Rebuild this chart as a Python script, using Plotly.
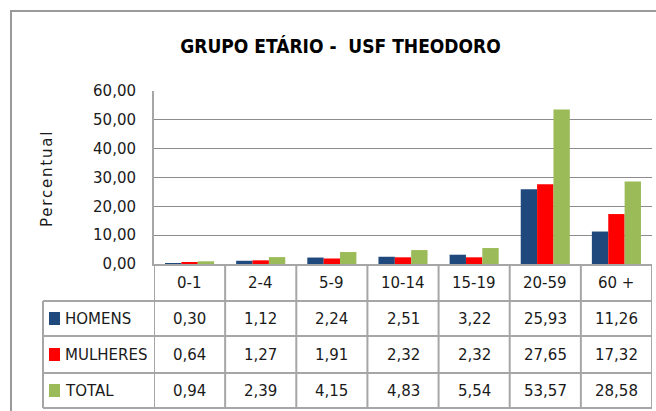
import plotly.graph_objects as go

# ---- data -------------------------------------------------------------
categories = ["0-1", "2-4", "5-9", "10-14", "15-19", "20-59", "60 +"]
homens = [0.30, 1.12, 2.24, 2.51, 3.22, 25.93, 11.26]
mulheres = [0.64, 1.27, 1.91, 2.32, 2.32, 27.65, 17.32]
total = [0.94, 2.39, 4.15, 4.83, 5.54, 53.57, 28.58]

series_names = ["HOMENS", "MULHERES", "TOTAL"]
series_values = [homens, mulheres, total]
series_colors = ["#1F497D", "#FF0000", "#9BBB59"]

title_text = "GRUPO ETÁRIO -  USF THEODORO"
y_title = "Percentual"

# ---- geometry (pixels) -----------------------------------------------
W, H = 656, 411
PL, PR, PT, PB = 154, 652, 91, 264          # plot area box
ROW_EDGES = [264, 301, 336, 373, 408]       # table row borders
LABEL_LEFT = 43                             # left edge of series label column


def px_x(px):
    return (px - PL) / (PR - PL)


def px_y(py):
    return (PB - py) / (PB - PT)


FONT = "DejaVu Sans"
TXT = "#1a1a1a"
LINE = "#a6a6a6"


def fmt(v):
    return f"{v:.2f}".replace(".", ",")


fig = go.Figure()
for name, vals, col in zip(series_names, series_values, series_colors):
    fig.add_trace(go.Bar(x=categories, y=vals, name=name,
                         marker=dict(color=col, line=dict(width=0)),
                         showlegend=False))

shapes = []
annotations = []

# outer chart frame
shapes.append(dict(type="rect", xref="paper", yref="paper",
                   x0=px_x(11), x1=px_x(670), y0=px_y(11), y1=px_y(430),
                   line=dict(color="#9a9a9a", width=2), layer="below"))

# data table: horizontal rules
for i, py in enumerate(ROW_EDGES[1:]):
    shapes.append(dict(type="line", xref="paper", yref="paper",
                       x0=px_x(LABEL_LEFT), x1=1, y0=px_y(py), y1=px_y(py),
                       line=dict(color=LINE, width=2)))
# data table: vertical rules at category boundaries
for k in range(len(categories) + 1):
    shapes.append(dict(type="line", xref="x", yref="paper",
                       x0=k - 0.5, x1=k - 0.5, y0=0, y1=px_y(ROW_EDGES[-1]),
                       line=dict(color=LINE, width=2)))
shapes.append(dict(type="line", xref="paper", yref="paper",
                   x0=px_x(LABEL_LEFT), x1=px_x(LABEL_LEFT),
                   y0=px_y(ROW_EDGES[1]), y1=px_y(ROW_EDGES[-1]),
                   line=dict(color=LINE, width=2)))

# header row: category names
hy = px_y((ROW_EDGES[0] + ROW_EDGES[1]) / 2)
for c in categories:
    annotations.append(dict(x=c, y=hy, xref="x", yref="paper", text=c,
                            showarrow=False, xanchor="center", yanchor="middle",
                            font=dict(family=FONT, size=15, color=TXT)))

# series rows: colour key, name and values
for r, (name, vals, col) in enumerate(zip(series_names, series_values, series_colors)):
    cy_px = (ROW_EDGES[r + 1] + ROW_EDGES[r + 2]) / 2
    cy = px_y(cy_px)
    shapes.append(dict(type="rect", xref="paper", yref="paper",
                       x0=px_x(49), x1=px_x(60),
                       y0=px_y(cy_px + 6.5), y1=px_y(cy_px - 6.5),
                       fillcolor=col, line=dict(width=0)))
    annotations.append(dict(x=px_x(63), y=cy, xref="paper", yref="paper",
                            text=name, showarrow=False, xanchor="left",
                            yanchor="middle",
                            font=dict(family=FONT, size=15, color=TXT)))
    for c, v in zip(categories, vals):
        annotations.append(dict(x=c, y=cy, xref="x", yref="paper", text=fmt(v),
                                showarrow=False, xanchor="center",
                                yanchor="middle",
                                font=dict(family=FONT, size=15, color=TXT)))

# vertical axis title
annotations.append(dict(x=px_x(47), y=px_y(179), xref="paper", yref="paper",
                        text=f"<span style='letter-spacing:1.8px'>{y_title}</span>",
                        textangle=-90, showarrow=False,
                        xanchor="center", yanchor="middle",
                        font=dict(family=FONT, size=15, color=TXT)))

fig.update_layout(
    width=W, height=H, autosize=False,
    margin=dict(l=PL, r=W - PR, t=PT, b=H - PB, pad=0),
    paper_bgcolor="white", plot_bgcolor="white",
    separators=",.",
    barmode="group", bargap=0.31, bargroupgap=0,
    title=dict(text=title_text, x=340.5 / W, xanchor="center",
               y=1 - 46 / H, yanchor="middle", yref="container",
               font=dict(family="DejaVu Sans Condensed",
                         size=19, color="#000000", weight="bold")),
    shapes=shapes,
    annotations=annotations,
)
fig.update_xaxes(showticklabels=False, showgrid=False, ticks="",
                 showline=True, linecolor=LINE, linewidth=2,
                 range=[-0.5, len(categories) - 0.5])
fig.update_yaxes(range=[0, 60], dtick=10, tickformat=".2f",
                 showgrid=True, gridcolor="#8c8c8c", gridwidth=1.4,
                 showline=True, linecolor=LINE, linewidth=2,
                 zeroline=False, ticks="", ticklabelstandoff=13,
                 tickfont=dict(family=FONT, size=15, color=TXT))

fig.write_html("out.html")
